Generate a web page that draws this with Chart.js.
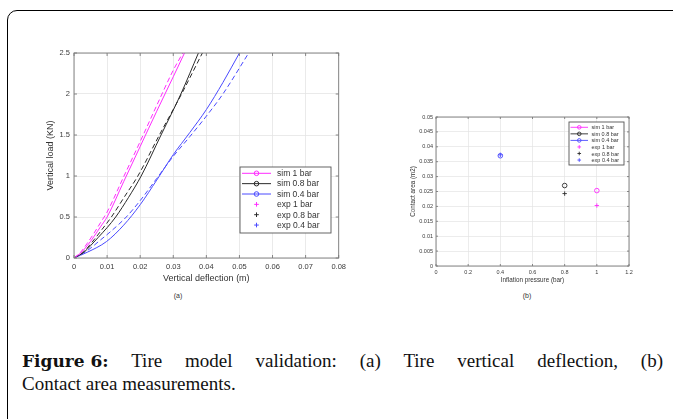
<!DOCTYPE html>
<html><head><meta charset="utf-8">
<script src="https://cdn.jsdelivr.net/npm/chart.js@4"></script>
<style>
html,body{margin:0;padding:0;background:#fff;width:673px;height:419px;overflow:hidden;}
#frame{position:absolute;left:7px;top:10px;width:720px;height:460px;border:1.6px solid #000;border-top-left-radius:10px;box-sizing:border-box;}
canvas{position:absolute;}
#ca{left:20px;top:40px;}
#cb{left:395px;top:105px;}
.sub{position:absolute;top:292px;font:7px "Liberation Sans",Arial,sans-serif;color:#333;transform:translateX(-50%);}
.cap{position:absolute;left:22px;width:641px;font:19px "Liberation Serif","DejaVu Serif",serif;line-height:23px;color:#111;white-space:nowrap;}
.cap b{font:bold 17px "DejaVu Serif",serif;display:inline-block;white-space:nowrap;}
#cap1{top:349px;text-align:justify;text-align-last:justify;white-space:normal;}
#cap2{top:372px;}
</style></head>
<body>
<div id="frame"></div>
<canvas id="ca" width="330" height="250"></canvas>
<canvas id="cb" width="245" height="185"></canvas>
<div class="sub" style="left:178px">(a)</div>
<div class="sub" style="left:527px">(b)</div>
<div class="cap" id="cap1"><b>Figure 6:</b> Tire model validation: (a) Tire vertical deflection, (b)</div>
<div class="cap" id="cap2">Contact area measurements.</div>
<script>
// ---------- data: panel (a) load vs deflection ----------
const seriesLabels = ['sim 1 bar','sim 0.8 bar','sim 0.4 bar','exp 1 bar','exp 0.8 bar','exp 0.4 bar'];
const seriesColors = ['#ff2bff','#2a2a2a','#4a4aff','#ff2bff','#2a2a2a','#4a4aff'];

const deflSim1 = [0, 0.002, 0.004, 0.006, 0.008, 0.010, 0.015, 0.020, 0.025, 0.030, 0.0334];
const loadSim1 = [0, 0.06, 0.15, 0.26, 0.38, 0.50, 0.93, 1.36, 1.79, 2.21, 2.5];
const deflSim08 = [0, 0.003, 0.005, 0.0073, 0.010, 0.0126, 0.0165, 0.0203, 0.0263, 0.0323, 0.0376];
const loadSim08 = [0, 0.07, 0.15, 0.25, 0.37, 0.50, 0.74, 1.0, 1.5, 2.0, 2.5];
const deflSim04 = [0, 0.004, 0.0098, 0.015, 0.020, 0.025, 0.030, 0.035, 0.040, 0.045, 0.050];
const loadSim04 = [0, 0.07, 0.20, 0.40, 0.65, 0.95, 1.26, 1.53, 1.81, 2.14, 2.5];

const deflExp1 = [0, 0.002, 0.004, 0.006, 0.008, 0.010, 0.015, 0.020, 0.025, 0.030, 0.0329];
const loadExp1 = [0, 0.07, 0.18, 0.30, 0.43, 0.56, 0.99, 1.42, 1.86, 2.29, 2.5];
const deflExp08 = [0, 0.003, 0.006, 0.0085, 0.0113, 0.0153, 0.0193, 0.0258, 0.0325, 0.0388];
const loadExp08 = [0, 0.08, 0.22, 0.35, 0.50, 0.75, 1.0, 1.5, 2.0, 2.5];
const deflExp04 = [0, 0.004, 0.008, 0.011, 0.0158, 0.020, 0.025, 0.030, 0.035, 0.040, 0.045, 0.0528];
const loadExp04 = [0, 0.09, 0.22, 0.32, 0.50, 0.70, 0.97, 1.24, 1.48, 1.73, 2.0, 2.5];

const deflTicks = [0, 0.01, 0.02, 0.03, 0.04, 0.05, 0.06, 0.07, 0.08];
const deflTickLabels = ['0','0.01','0.02','0.03','0.04','0.05','0.06','0.07','0.08'];
const loadTicks = [0, 0.5, 1, 1.5, 2, 2.5];
const loadTickLabels = ['0','0.5','1','1.5','2','2.5'];

// ---------- data: panel (b) contact area vs pressure ----------
const pressureSim = [1, 0.8, 0.4];
const areaSim = [0.0253, 0.0270, 0.0370];
const pressureExp = [1, 0.8, 0.4];
const areaExp = [0.0203, 0.0243, 0.0373];

const pressureTicks = [0, 0.2, 0.4, 0.6, 0.8, 1, 1.2];
const pressureTickLabels = ['0','0.2','0.4','0.6','0.8','1','1.2'];
const areaTicks = [0,0.005,0.01,0.015,0.02,0.025,0.03,0.035,0.04,0.045,0.05];
const areaTickLabels = ['0','0.005','0.01','0.015','0.02','0.025','0.03','0.035','0.04','0.045','0.05'];

const pts = (xs, ys) => xs.map((x, i) => ({x: x, y: ys[i]}));

// ---------- plugins ----------
const boxPlugin = {
  id: 'matBox',
  afterDraw(chart, args, o) {
    const {ctx, chartArea: a} = chart;
    ctx.save();
    ctx.strokeStyle = '#7a7a7a';
    ctx.lineWidth = 0.9;
    ctx.strokeRect(a.left, a.top, a.right - a.left, a.bottom - a.top);
    const L = o.tick || 3;
    ctx.beginPath();
    const xs = chart.scales.x, ys = chart.scales.y;
    xs.ticks.forEach(t => {
      const p = xs.getPixelForValue(t.value);
      ctx.moveTo(p, a.bottom); ctx.lineTo(p, a.bottom - L);
      ctx.moveTo(p, a.top); ctx.lineTo(p, a.top + L);
    });
    ys.ticks.forEach(t => {
      const p = ys.getPixelForValue(t.value);
      ctx.moveTo(a.left, p); ctx.lineTo(a.left + L, p);
      ctx.moveTo(a.right, p); ctx.lineTo(a.right - L, p);
    });
    ctx.stroke();
    ctx.restore();
  }
};

const legendPlugin = {
  id: 'matLegend',
  afterDraw(chart, args, o) {
    const ctx = chart.ctx;
    ctx.save();
    ctx.fillStyle = '#fff';
    ctx.fillRect(o.x, o.y, o.w, o.h);
    ctx.strokeStyle = '#555';
    ctx.lineWidth = 0.9;
    ctx.strokeRect(o.x, o.y, o.w, o.h);
    ctx.font = o.font;
    ctx.textBaseline = 'middle';
    ctx.textAlign = 'left';
    chart.data.datasets.forEach((ds, i) => {
      const cy = o.row0 + i * o.dy;
      const col = ds.legendColor;
      ctx.strokeStyle = col;
      if (ds.legendMarker === 'circle') {
        ctx.lineWidth = o.lw;
        ctx.beginPath();
        ctx.moveTo(o.lx0, cy); ctx.lineTo(o.lx1, cy); ctx.stroke();
        ctx.beginPath();
        ctx.arc((o.lx0 + o.lx1) / 2, cy, o.r, 0, Math.PI * 2);
        ctx.stroke();
      } else {
        ctx.lineWidth = o.lw;
        const cx = (o.lx0 + o.lx1) / 2;
        ctx.beginPath();
        ctx.moveTo(cx - o.r, cy); ctx.lineTo(cx + o.r, cy);
        ctx.moveTo(cx, cy - o.r); ctx.lineTo(cx, cy + o.r);
        ctx.stroke();
      }
      ctx.fillStyle = '#333';
      ctx.fillText(ds.label, o.tx, cy + 0.5);
    });
    ctx.restore();
  }
};

const gridCol = '#e4e4e4';
const tickCol = '#3a3a3a';

// ---------- chart (a) ----------
const lineDs = (i, data, dashed) => ({
  label: seriesLabels[i], data: data,
  borderColor: seriesColors[i], borderWidth: 1,
  borderDash: dashed ? [5, 3] : [],
  pointRadius: 0, cubicInterpolationMode: 'monotone', fill: false,
  legendMarker: dashed ? 'plus' : 'circle', legendColor: seriesColors[i]
});

new Chart(document.getElementById('ca'), {
  type: 'line',
  data: { datasets: [
    lineDs(0, pts(deflSim1, loadSim1), false),
    lineDs(1, pts(deflSim08, loadSim08), false),
    lineDs(2, pts(deflSim04, loadSim04), false),
    lineDs(3, pts(deflExp1, loadExp1), true),
    lineDs(4, pts(deflExp08, loadExp08), true),
    lineDs(5, pts(deflExp04, loadExp04), true)
  ]},
  options: {
    responsive: false, animation: false, devicePixelRatio: 1,
    layout: { padding: { left: 0, top: 13, right: 10, bottom: 0 } },
    plugins: {
      legend: { display: false }, tooltip: { enabled: false },
      matBox: { tick: 3 },
      matLegend: { x: 220, y: 127, w: 91, h: 66, row0: 133.3, dy: 10.35,
        lx0: 222, lx1: 251, tx: 257, r: 2.3, lw: 1,
        font: '8.5px "Liberation Sans", Arial, sans-serif' }
    },
    scales: {
      x: {
        type: 'linear', min: 0, max: 0.08,
        afterBuildTicks: s => { s.ticks = deflTicks.map(v => ({value: v})); },
        afterFit: s => { s.height = 32; },
        ticks: { padding: 4, color: tickCol, font: { size: 7.5, family: '"Liberation Sans", Arial, sans-serif' },
          maxRotation: 0, autoSkip: false, callback: (v, i) => deflTickLabels[i] },
        grid: { color: gridCol, lineWidth: 0.8, drawTicks: false },
        border: { display: false },
        title: { display: true, text: 'Vertical deflection (m)', color: '#333',
          font: { size: 9, family: '"Liberation Sans", Arial, sans-serif' }, padding: { top: 0, bottom: 6.5 } }
      },
      y: {
        type: 'linear', min: 0, max: 2.5,
        afterBuildTicks: s => { s.ticks = loadTicks.map(v => ({value: v})); },
        afterFit: s => { s.width = 54; },
        ticks: { padding: 4, color: tickCol, font: { size: 7.5, family: '"Liberation Sans", Arial, sans-serif' },
          autoSkip: false, callback: (v, i) => loadTickLabels[i] },
        grid: { color: gridCol, lineWidth: 0.8, drawTicks: false },
        border: { display: false },
        title: { display: true, text: 'Vertical load (KN)', color: '#333',
          font: { size: 9, family: '"Liberation Sans", Arial, sans-serif' }, padding: { top: 25, bottom: 0 } }
      }
    }
  },
  plugins: [boxPlugin, legendPlugin]
});

// ---------- chart (b) ----------
const scatDs = (i, x, y, marker) => ({
  label: seriesLabels[i], data: [{x: x, y: y}],
  borderColor: seriesColors[i], backgroundColor: 'rgba(0,0,0,0)',
  borderWidth: 0.9, pointStyle: marker === 'circle' ? 'circle' : 'cross',
  pointRadius: marker === 'circle' ? 2.3 : 2.2, showLine: false,
  legendMarker: marker, legendColor: seriesColors[i]
});

new Chart(document.getElementById('cb'), {
  type: 'scatter',
  data: { datasets: [
    scatDs(0, pressureSim[0], areaSim[0], 'circle'),
    scatDs(1, pressureSim[1], areaSim[1], 'circle'),
    scatDs(2, pressureSim[2], areaSim[2], 'circle'),
    scatDs(3, pressureExp[0], areaExp[0], 'plus'),
    scatDs(4, pressureExp[1], areaExp[1], 'plus'),
    scatDs(5, pressureExp[2], areaExp[2], 'plus')
  ]},
  options: {
    responsive: false, animation: false, devicePixelRatio: 1,
    layout: { padding: { left: 0, top: 12, right: 11, bottom: 0 } },
    plugins: {
      legend: { display: false }, tooltip: { enabled: false },
      matBox: { tick: 2 },
      matLegend: { x: 174, y: 17, w: 55, h: 43, row0: 22.3, dy: 6.55,
        lx0: 175.5, lx1: 193, tx: 196.5, r: 1.8, lw: 0.9,
        font: '5.5px "Liberation Sans", Arial, sans-serif' }
    },
    scales: {
      x: {
        type: 'linear', min: 0, max: 1.2,
        afterBuildTicks: s => { s.ticks = pressureTicks.map(v => ({value: v})); },
        afterFit: s => { s.height = 24; },
        ticks: { padding: 3, color: tickCol, font: { size: 5.5, family: '"Liberation Sans", Arial, sans-serif' },
          maxRotation: 0, autoSkip: false, callback: (v, i) => pressureTickLabels[i] },
        grid: { color: gridCol, lineWidth: 0.7, drawTicks: false },
        border: { display: false },
        title: { display: true, text: 'Inflation pressure (bar)', color: '#333',
          font: { size: 6.3, family: '"Liberation Sans", Arial, sans-serif' }, padding: { top: 0, bottom: 6 } }
      },
      y: {
        type: 'linear', min: 0, max: 0.05,
        afterBuildTicks: s => { s.ticks = areaTicks.map(v => ({value: v})); },
        afterFit: s => { s.width = 41; },
        ticks: { padding: 3, color: tickCol, font: { size: 5.5, family: '"Liberation Sans", Arial, sans-serif' },
          autoSkip: false, callback: (v, i) => areaTickLabels[i] },
        grid: { color: gridCol, lineWidth: 0.7, drawTicks: false },
        border: { display: false },
        title: { display: true, text: 'Contact area (m2)', color: '#333',
          font: { size: 6.3, family: '"Liberation Sans", Arial, sans-serif' }, padding: { top: 14, bottom: 0 } }
      }
    }
  },
  plugins: [boxPlugin, legendPlugin]
});
</script>
</body></html>
